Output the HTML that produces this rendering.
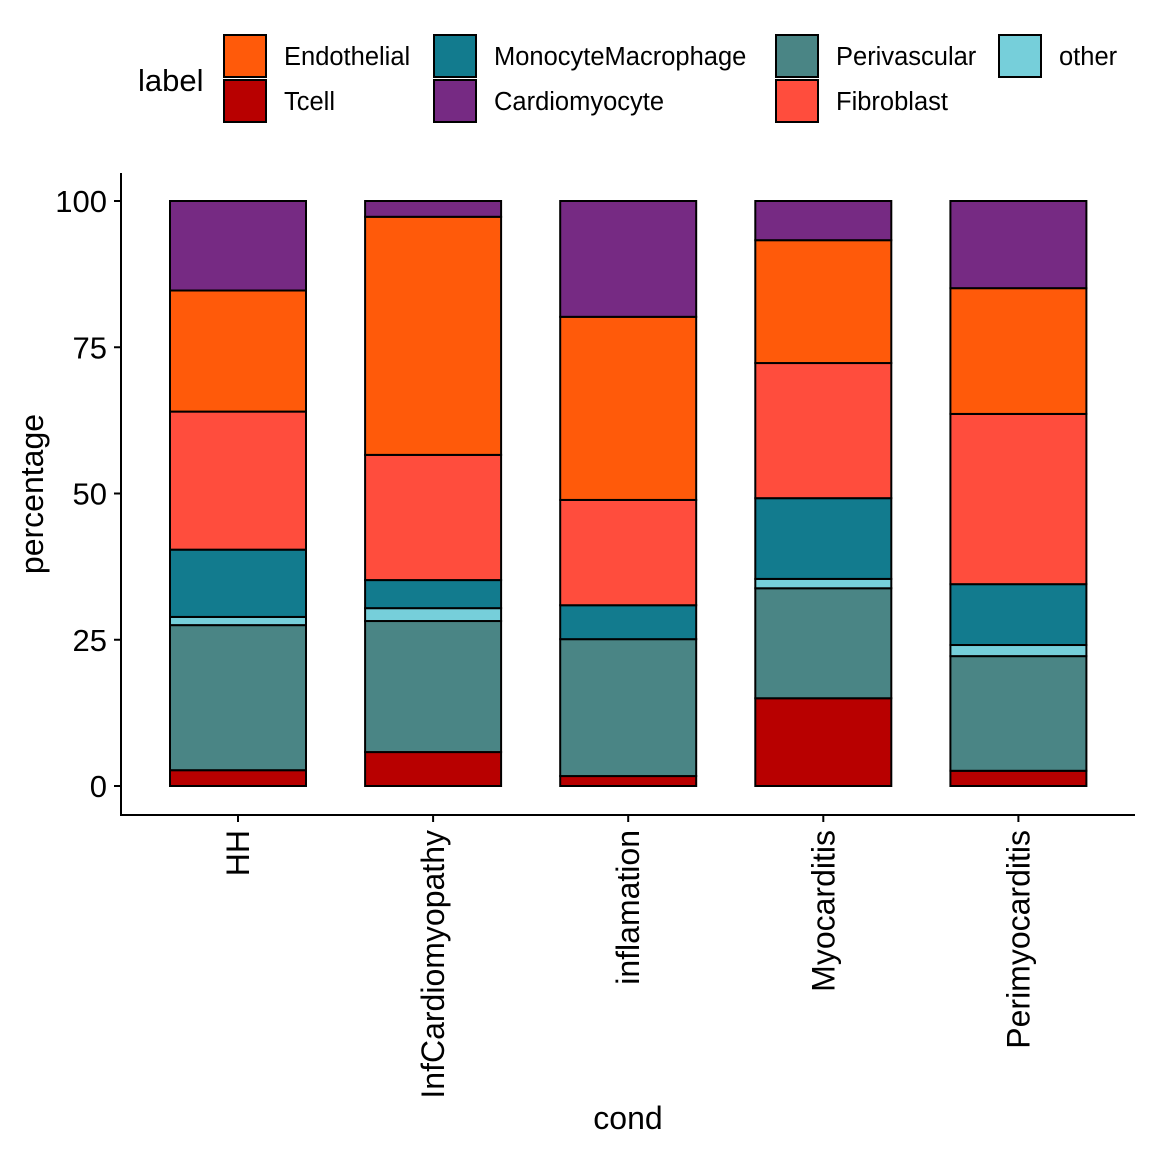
<!DOCTYPE html>
<html><head><meta charset="utf-8"><style>
html,body{margin:0;padding:0;background:#fff;}
svg{display:block;font-family:"Liberation Sans",Arial,sans-serif;}
</style></head><body>
<svg id="chart" width="1152" height="1152" viewBox="0 0 1152 1152">
<g id="legend"></g>
<g id="plot"></g>
</svg>
<script>
const categories = ["HH","InfCardiomyopathy","inflamation","Myocarditis","Perimyocarditis"];
const seriesNames = ["Tcell","Perivascular","other","MonocyteMacrophage","Fibroblast","Endothelial","Cardiomyocyte"];
const tcell = [2.7,5.8,1.7,15.0,2.6];
const perivascular = [24.8,22.4,23.4,18.8,19.6];
const other = [1.4,2.2,0,1.6,1.9];
const monocyteMacrophage = [11.5,4.8,5.8,13.8,10.4];
const fibroblast = [23.6,21.4,18.0,23.1,29.1];
const endothelial = [20.7,40.7,31.3,21.0,21.5];
const cardiomyocyte = [15.3,2.7,19.8,6.7,14.9];
const yTicks = [0,25,50,75,100];
const seriesValues = [tcell,perivascular,other,monocyteMacrophage,fibroblast,endothelial,cardiomyocyte];
const colors = {Tcell:"#B80000",Perivascular:"#4A8585",other:"#76CFDA",MonocyteMacrophage:"#127B8E",Fibroblast:"#FF4D3D",Endothelial:"#FF5A0A",Cardiomyocyte:"#762A83"};

const NS="http://www.w3.org/2000/svg";
function mk(tag,attrs,parent){const e=document.createElementNS(NS,tag);for(const k in attrs)e.setAttribute(k,attrs[k]);parent.appendChild(e);return e;}
const plot=document.getElementById('plot');
const y0=786,y100=201;
const yScale=v=>y0-(y0-y100)*v/100;
const xStart=238,xStep=195.1,bw=136;
const xScale=i=>xStart+i*xStep;

categories.forEach((c,i)=>{
  let cum=0;
  seriesNames.forEach((s,j)=>{
    const v=seriesValues[j][i];
    const top=yScale(cum+v),bot=yScale(cum);
    const r=mk('rect',{x:xScale(i)-bw/2,y:top,width:bw,height:Math.max(0,bot-top),fill:colors[s],stroke:"#000","stroke-width":2},plot);
    
    
    cum+=v;
  });
  const t=mk('text',{x:0,y:0,transform:`translate(${xScale(i)+11},830) rotate(-90)`,"text-anchor":"end","font-size":32,fill:"#000"},plot);
  t.textContent=c;
  
  
  const tk=mk('line',{x1:xScale(i),x2:xScale(i),y1:815,y2:822,stroke:"#000","stroke-width":2},plot);
  
  
});
yTicks.forEach(v=>{
  const tk=mk('line',{x1:114,x2:121,y1:yScale(v),y2:yScale(v),stroke:"#000","stroke-width":2},plot);
  
  
  const t=mk('text',{x:107,y:yScale(v)+11,"text-anchor":"end","font-size":31,fill:"#000"},plot);
  t.textContent=v;
  
  
});
let a=mk('line',{x1:121,x2:121,y1:173,y2:816,stroke:"#000","stroke-width":2},plot);

a=mk('line',{x1:120,x2:1135,y1:815,y2:815,stroke:"#000","stroke-width":2},plot);

let t=mk('text',{x:628,y:1129,"text-anchor":"middle","font-size":32,fill:"#000"},plot);
t.textContent="cond";
t=mk('text',{x:0,y:0,transform:"translate(43,494) rotate(-90)","text-anchor":"middle","font-size":32,fill:"#000"},plot);
t.textContent="percentage";

const lg=document.getElementById('legend');
t=mk('text',{x:138,y:91,"font-size":31,fill:"#000"},lg);
t.textContent="label";
const legendItems=[["Endothelial",223,34],["Tcell",223,79],["MonocyteMacrophage",433,34],["Cardiomyocyte",433,79],["Perivascular",775,34],["Fibroblast",775,79],["other",998,34]];
legendItems.forEach(([n,x,y])=>{
  const r=mk('rect',{x:x+1,y:y+1,width:42,height:42,fill:colors[n],stroke:"#000","stroke-width":2},lg);
  
  const tx=mk('text',{x:x+61,y:y+31,"font-size":25.5,fill:"#000"},lg);
  tx.textContent=n;
});
</script>
</body></html>
